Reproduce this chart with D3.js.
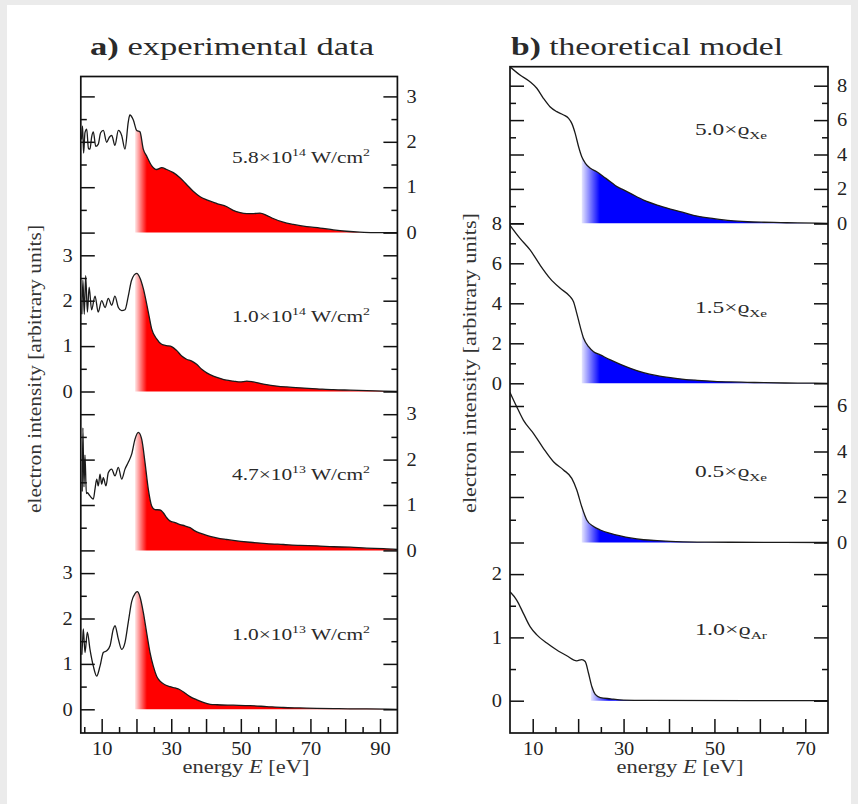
<!DOCTYPE html>
<html lang="en">
<head>
<meta charset="UTF-8">
<title>Electron spectra: experiment vs model</title>
<style>
  body { margin: 0; background: #ebebeb; }
  svg { display: block; font-family: "Liberation Serif", "DejaVu Serif", serif; }
  .curve { fill: none; stroke: #1a1a1a; stroke-width: 1.3; }
  .frame { fill: none; stroke: #111; stroke-width: 1.7; }
  .tick line { stroke: #111; stroke-width: 1.5; }
  .tick text { fill: #222; font-size: 18px; font-family: "Liberation Serif", "DejaVu Serif", serif; }
  .title { fill: #2a2a2a; font-size: 26px; }
  .axis-title { fill: #333; font-size: 18px; }
  .curve-label { fill: #2a2a2a; font-size: 17px; }
</style>
</head>
<body>
<svg id="chart" width="858" height="804"></svg>
<script src="https://d3js.org/d3.v7.min.js"></script>
<script>
// ---- data: [energy eV, intensity arb. units] ----
const exp58e14 = [[4.2,2.05],[4.5,2.35],[4.8,1.75],[5.2,2.2],[5.7,2.28],[6.2,1.85],[6.64,1.84],[7.1,2.1],[7.6,2.22],[8.3,1.9],[9.03,1.95],[9.7,2.2],[10.47,2.25],[11.44,1.99],[12.2,2.1],[12.9,2.14],[13.8,1.92],[14.8,2.25],[15.75,2.14],[16.7,1.84],[17.65,2.44],[18.1,2.59],[19.1,2.48],[20.07,2.25],[21.0,2.22],[21.96,1.84],[22.9,1.69],[24.4,1.47],[25.8,1.39],[27.25,1.43],[28.7,1.39],[30.6,1.32],[32.5,1.21],[34.4,1.06],[36.3,0.91],[38.3,0.79],[40.2,0.72],[43.1,0.64],[46.0,0.57],[47.8,0.49],[49.8,0.44],[51.7,0.42],[53.6,0.42],[55.5,0.43],[57.4,0.38],[59.3,0.31],[62.2,0.23],[65.1,0.18],[68.9,0.13],[72.8,0.1],[76.6,0.06],[80.4,0.03],[84.2,0.01],[88.1,0.0],[91.9,0.0],[95,0.0]];
const exp10e14 = [[4.3,1.7],[4.6,2.45],[5.0,1.7],[5.4,2.55],[5.9,1.75],[6.4,2.3],[7.1,1.8],[8.1,2.1],[9.0,1.75],[10.0,2.0],[11.0,1.85],[11.9,2.05],[12.9,1.9],[13.8,2.1],[14.8,1.85],[15.75,1.78],[16.7,1.8],[17.65,2.1],[18.6,2.45],[20.07,2.6],[21.0,2.5],[21.96,2.27],[23.4,1.75],[24.37,1.38],[25.8,1.16],[27.25,1.04],[28.7,1.01],[30.1,0.99],[31.6,0.9],[33.0,0.78],[34.4,0.71],[35.9,0.67],[37.3,0.6],[38.75,0.49],[40.2,0.41],[42.1,0.34],[44.0,0.29],[45.9,0.25],[47.8,0.23],[49.8,0.21],[51.7,0.23],[53.6,0.21],[55.5,0.18],[57.4,0.15],[60.3,0.12],[63.2,0.1],[67.0,0.08],[71.8,0.06],[76.6,0.04],[81.4,0.03],[86.2,0.02],[91.0,0.01],[95,0.0]];
const exp47e13 = [[4.4,1.3],[4.6,2.7],[4.9,1.4],[5.2,2.1],[5.6,1.25],[5.88,1.27],[6.64,1.2],[7.6,1.13],[8.08,1.35],[8.57,1.57],[9.03,1.42],[9.52,1.68],[10.0,1.46],[10.47,1.6],[11.24,1.42],[11.9,1.71],[12.87,1.79],[13.83,1.64],[14.78,1.83],[15.75,1.57],[16.7,1.79],[17.65,1.94],[18.62,2.12],[19.58,2.45],[20.53,2.6],[21.5,2.45],[22.45,1.94],[23.4,1.35],[24.37,0.98],[25.3,0.9],[26.77,0.89],[27.7,0.83],[28.7,0.72],[29.6,0.65],[31.1,0.61],[32.5,0.57],[33.9,0.54],[35.4,0.5],[36.8,0.43],[38.3,0.38],[40.2,0.33],[42.1,0.29],[44.0,0.26],[45.9,0.24],[47.8,0.22],[52.6,0.18],[57.4,0.15],[62.2,0.13],[67.0,0.11],[71.8,0.1],[76.6,0.08],[81.4,0.07],[86.2,0.05],[91.0,0.04],[95,0.02]];
const exp10e13 = [[4.3,1.2],[4.55,1.55],[4.73,1.77],[5.2,1.25],[5.88,1.7],[6.64,1.32],[7.6,0.95],[8.57,0.73],[9.52,0.95],[10.47,1.25],[11.44,1.29],[12.4,1.4],[13.35,1.77],[13.83,1.84],[14.78,1.55],[15.75,1.32],[16.7,1.47],[17.65,1.92],[18.62,2.37],[19.58,2.55],[20.24,2.59],[21.0,2.48],[21.96,2.14],[22.9,1.7],[23.9,1.25],[24.84,0.95],[25.8,0.73],[26.77,0.62],[28.2,0.54],[29.6,0.5],[31.1,0.47],[32.5,0.43],[33.9,0.36],[35.4,0.28],[37.3,0.21],[39.2,0.15],[41.2,0.11],[43.1,0.1],[47.8,0.09],[52.6,0.08],[57.4,0.06],[62.2,0.04],[67.0,0.03],[71.8,0.02],[76.6,0.015],[81.4,0.01],[86.2,0.01],[95,0.0]];

const modelXe50 = [[5.0,9.1],[7.2,8.62],[9.4,8.23],[10.9,7.85],[12.35,7.27],[13.8,6.78],[15.3,6.49],[16.8,6.3],[17.9,6.1],[18.6,5.81],[19.35,5.23],[20.1,4.45],[20.8,3.87],[21.6,3.49],[22.7,3.2],[24.1,3.0],[25.6,2.71],[27.1,2.42],[28.55,2.13],[30.0,1.94],[31.5,1.74],[34.4,1.35],[37.4,1.06],[40.3,0.83],[43.3,0.62],[46.2,0.42],[49.9,0.27],[53.6,0.15],[57.25,0.09],[60.9,0.06],[64.6,0.04],[68.3,0.02],[75,0.0]];
const modelXe15 = [[5.0,7.9],[7.2,7.25],[9.42,6.67],[11.6,5.92],[13.8,5.25],[16.04,4.75],[18.25,4.33],[18.98,4.08],[19.7,3.5],[20.45,2.83],[21.2,2.25],[22.3,1.83],[23.4,1.58],[24.87,1.42],[27.1,1.17],[29.3,0.95],[31.5,0.75],[34.4,0.53],[37.4,0.38],[40.3,0.28],[43.3,0.2],[46.2,0.15],[49.9,0.1],[53.6,0.07],[57.25,0.05],[60.9,0.03],[68.3,0.01],[75,0.0]];
const modelXe05 = [[5.0,6.6],[6.47,5.97],[7.94,5.38],[10.15,4.8],[12.35,4.14],[14.57,3.55],[16.77,3.19],[18.6,2.82],[19.7,2.31],[20.8,1.57],[21.9,0.99],[23.4,0.7],[24.87,0.55],[27.1,0.4],[29.3,0.29],[31.5,0.2],[34.4,0.12],[37.4,0.08],[40.3,0.05],[46.2,0.02],[53.6,0.01],[75,0.0]];
const modelAr10 = [[5.0,1.72],[6.47,1.59],[7.94,1.38],[9.42,1.17],[10.9,1.04],[13.1,0.91],[15.3,0.8],[17.5,0.71],[19.7,0.63],[20.8,0.65],[21.55,0.62],[22.3,0.43],[23.03,0.22],[23.77,0.1],[24.87,0.05],[27.1,0.03],[30.0,0.01],[35.2,0.005],[75,0.0]];

// labels
const expIntensities = [["5.8", "14"], ["1.0", "14"], ["4.7", "13"], ["1.0", "13"]];
const modelFactors = ["5.0", "1.5", "0.5", "1.0"];
const modelGases = ["Xe", "Xe", "Xe", "Ar"];

// where the shaded part starts (eV)
const fillStartA = [19.6, 19.6, 19.6, 19.6];
const fillStartB = [20.8, 20.8, 20.8, 22.8];

// ticks
const energyMajorA = [10, 20, 30, 40, 50, 60, 70, 80, 90];
const energyMinorA = [5, 15, 25, 35, 45, 55, 65, 75, 85, 95];
const energyLabelsA = [10, 30, 50, 70, 90];
const energyMajorB = [10, 20, 30, 40, 50, 60, 70];
const energyMinorB = [5, 15, 25, 35, 45, 55, 65, 75];
const energyLabelsB = [10, 30, 50, 70];
const yMajorA = [0, 1, 2, 3];
const yMinorA = [0.5, 1.5, 2.5];
const yMajorB = [[0, 2, 4, 6, 8], [0, 2, 4, 6, 8], [0, 2, 4, 6], [0, 1, 2]];
const yMinorB = [[1, 3, 5, 7], [1, 3, 5, 7], [1, 3, 5], [0.5, 1.5]];

// ---- layout ----
const svg = d3.select("#chart");
svg.append("rect").attr("width", 858).attr("height", 804).attr("fill", "#ebebeb");
svg.append("rect").attr("x", 7).attr("y", 5).attr("width", 844).attr("height", 799).attr("fill", "#fff");
const defs = svg.append("defs");

const panels = [
  {
    id: "a", color: "#ff0000", fade: 3.4,
    x0: 80.8, x1: 397.4, y0: 76.5, y1: 733, xDomain: [4, 95],
    xMajor: energyMajorA, xMinor: energyMinorA, xLabels: energyLabelsA,
    labelX: 232, labelLen: 138,
    subs: [
      { data: exp58e14, base: 232.6, unit: 45.4, top: 3, major: yMajorA, minor: yMinorA, side: "right", fill: fillStartA[0], lab: expIntensities[0], labDy: 70 },
      { data: exp10e14, base: 391.5, unit: 45.4, top: 3, major: yMajorA, minor: yMinorA, side: "left", fill: fillStartA[1], lab: expIntensities[1], labDy: 70 },
      { data: exp47e13, base: 550.4, unit: 45.4, top: 3, major: yMajorA, minor: yMinorA, side: "right", fill: fillStartA[2], lab: expIntensities[2], labDy: 70 },
      { data: exp10e13, base: 709.3, unit: 45.4, top: 3, major: yMajorA, minor: yMinorA, side: "left", fill: fillStartA[3], lab: expIntensities[3], labDy: 69 }
    ]
  },
  {
    id: "b", color: "#0000ff", fade: 4,
    x0: 510, x1: 828, y0: 66.7, y1: 733, xDomain: [5, 75],
    xMajor: energyMajorB, xMinor: energyMinorB, xLabels: energyLabelsB,
    labelX: 695, labelLen: 72,
    subs: [
      { data: modelXe50, base: 223.3, unit: 17.2, top: 8, major: yMajorB[0], minor: yMinorB[0], side: "right", fill: fillStartB[0], lab: [modelFactors[0], modelGases[0]], labDy: 88 },
      { data: modelXe15, base: 383.3, unit: 20, top: 8, major: yMajorB[1], minor: yMinorB[1], side: "left", fill: fillStartB[1], lab: [modelFactors[1], modelGases[1]], labDy: 70 },
      { data: modelXe05, base: 542.5, unit: 22.75, top: 6, major: yMajorB[2], minor: yMinorB[2], side: "right", fill: fillStartB[2], lab: [modelFactors[2], modelGases[2]], labDy: 66 },
      { data: modelAr10, base: 700.7, unit: 63.3, top: 2, major: yMajorB[3], minor: yMinorB[3], side: "left", fill: fillStartB[3], lab: [modelFactors[3], modelGases[3]], labDy: 66 }
    ]
  }
];

// stretch tick labels a little, the original font is wide
function widen(sel) {
  sel.selectAll("text").each(function () {
    const s = this.textContent;
    if (s) d3.select(this).attr("textLength", s.length * 10.2).attr("lengthAdjust", "spacingAndGlyphs");
  });
}

function drawPanel(p) {
  const x = d3.scaleLinear().domain(p.xDomain).range([p.x0, p.x1]);
  const g = svg.append("g");

  defs.append("clipPath").attr("id", p.id + "-clip")
    .append("rect").attr("x", p.x0).attr("y", p.y0).attr("width", p.x1 - p.x0).attr("height", p.y1 - p.y0);

  p.subs.forEach((s, i) => {
    const y = d3.scaleLinear().domain([0, s.top]).range([s.base, s.base - s.top * s.unit]);
    const fid = `${p.id}${i}`;

    // clip for the shaded area, starts at s.fill
    defs.append("clipPath").attr("id", fid + "-fill")
      .append("rect").attr("x", x(s.fill)).attr("y", p.y0)
      .attr("width", p.x1 - x(s.fill)).attr("height", p.y1 - p.y0);

    const grad = defs.append("linearGradient").attr("id", fid + "-grad")
      .attr("gradientUnits", "userSpaceOnUse")
      .attr("x1", x(s.fill)).attr("x2", x(s.fill + p.fade)).attr("y1", 0).attr("y2", 0);
    grad.append("stop").attr("offset", 0).attr("stop-color", p.color).attr("stop-opacity", 0.1);
    grad.append("stop").attr("offset", 1).attr("stop-color", p.color).attr("stop-opacity", 1);

    const area = d3.area().x(d => x(d[0])).y0(y(0)).y1(d => y(d[1])).curve(d3.curveMonotoneX);
    const line = d3.line().x(d => x(d[0])).y(d => y(d[1])).curve(d3.curveMonotoneX);

    g.append("path").datum(s.data)
      .attr("d", area)
      .attr("fill", `url(#${fid}-grad)`)
      .attr("clip-path", `url(#${fid}-fill)`);

    g.append("path").datum(s.data)
      .attr("class", "curve")
      .attr("d", line)
      .attr("clip-path", `url(#${p.id}-clip)`);

    // y ticks on both sides, numbers only on one
    const fmt = d3.format("d");
    const leftMajor = g.append("g").attr("transform", `translate(${p.x0},0)`)
      .call(d3.axisLeft(y).tickValues(s.major).tickSize(-14).tickPadding(8)
        .tickFormat(s.side === "left" ? fmt : () => ""));
    g.append("g").attr("transform", `translate(${p.x0},0)`)
      .call(d3.axisLeft(y).tickValues(s.minor).tickSize(-6).tickFormat(() => ""));
    const rightMajor = g.append("g").attr("transform", `translate(${p.x1},0)`)
      .call(d3.axisRight(y).tickValues(s.major).tickSize(-14).tickPadding(9)
        .tickFormat(s.side === "right" ? fmt : () => ""));
    g.append("g").attr("transform", `translate(${p.x1},0)`)
      .call(d3.axisRight(y).tickValues(s.minor).tickSize(-6).tickFormat(() => ""));
    widen(leftMajor);
    widen(rightMajor);

    // curve label
    const t = g.append("text").attr("class", "curve-label")
      .attr("x", p.labelX).attr("y", s.base - s.labDy)
      .attr("textLength", p.labelLen).attr("lengthAdjust", "spacingAndGlyphs");
    if (p.id === "a") {
      t.append("tspan").text(s.lab[0] + "×10");
      t.append("tspan").attr("dy", -7).attr("font-size", 11).text(s.lab[1]);
      t.append("tspan").attr("dy", 7).text(" W/cm");
      t.append("tspan").attr("dy", -7).attr("font-size", 11).text("2");
    } else {
      t.append("tspan").text(s.lab[0] + "×ϱ");
      t.append("tspan").attr("dy", 4).attr("font-size", 11).text(s.lab[1]);
    }
  });

  // energy axis
  const xa = g.append("g").attr("transform", `translate(0,${p.y1})`)
    .call(d3.axisBottom(x).tickValues(p.xMajor).tickSize(-14).tickPadding(9)
      .tickFormat(d => p.xLabels.includes(d) ? d : ""));
  g.append("g").attr("transform", `translate(0,${p.y1})`)
    .call(d3.axisBottom(x).tickValues(p.xMinor.filter(v => v > p.xDomain[0] && v < p.xDomain[1]))
      .tickSize(-6).tickFormat(() => ""));
  widen(xa);
  g.selectAll(".domain").remove();

  g.append("rect").attr("class", "frame")
    .attr("x", p.x0).attr("y", p.y0).attr("width", p.x1 - p.x0).attr("height", p.y1 - p.y0);
}

panels.forEach(drawPanel);

// titles
const titles = [
  { tag: "a)", text: " experimental data", x: 90, len: 284 },
  { tag: "b)", text: " theoretical model", x: 511, len: 272 }
];
titles.forEach(t => {
  const el = svg.append("text").attr("class", "title").attr("x", t.x).attr("y", 55)
    .attr("textLength", t.len).attr("lengthAdjust", "spacingAndGlyphs");
  el.append("tspan").attr("font-weight", "bold").text(t.tag);
  el.append("tspan").text(t.text);
});

// axis titles
[{ x: 41, y: 369, len: 288 }, { x: 476, y: 363, len: 300 }].forEach(a => {
  svg.append("text").attr("class", "axis-title")
    .attr("transform", `translate(${a.x},${a.y}) rotate(-90)`)
    .attr("text-anchor", "middle")
    .attr("textLength", a.len).attr("lengthAdjust", "spacingAndGlyphs")
    .text("electron intensity [arbitrary units]");
});
[{ x: 246, len: 127 }, { x: 680, len: 127 }].forEach(a => {
  const el = svg.append("text").attr("class", "axis-title")
    .attr("x", a.x).attr("y", 773).attr("text-anchor", "middle").attr("font-size", 19)
    .attr("textLength", a.len).attr("lengthAdjust", "spacingAndGlyphs");
  el.append("tspan").text("energy ");
  el.append("tspan").attr("font-style", "italic").text("E");
  el.append("tspan").text("  [eV]");
});
</script>
</body>
</html>
